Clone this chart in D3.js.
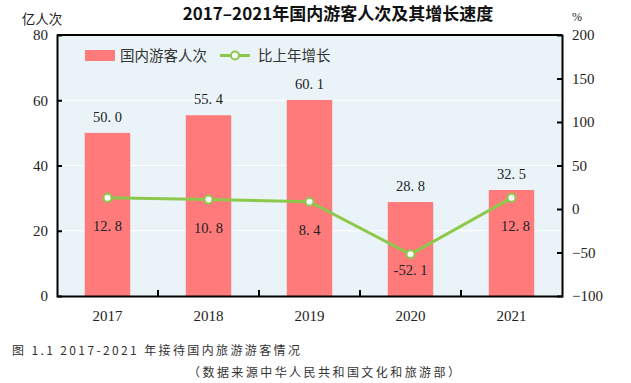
<!DOCTYPE html>
<html><head><meta charset="utf-8">
<script src="https://cdn.jsdelivr.net/npm/d3@7/dist/d3.min.js"></script>
<style>body{margin:0;background:#fff}</style>
</head><body>
<svg id="c" width="631" height="383"></svg>
<script>
const years = ["2017","2018","2019","2020","2021"];
const visitors = [50.0, 55.4, 60.1, 28.8, 32.5];
const growth = [12.8, 10.8, 8.4, -52.1, 12.8];
const leftTicks = [0,20,40,60,80];
const rightTicks = [-100,-50,0,50,100,150,200];

const svg = d3.select("#c");
const L=57, R=562, T=35, B=296;
const serif = "'Liberation Serif','DejaVu Serif',serif";
const cjk = "'Noto Sans CJK SC',sans-serif";

const x = d3.scaleBand().domain(years).range([L,R]).paddingInner(0.55).paddingOuter(0.275);
const xb = d3.scaleBand().domain(years).range([L,R]);
const yL = d3.scaleLinear().domain([0,80]).range([B,T]);
const yR = d3.scaleLinear().domain([-100,200]).range([B,T]);

svg.append("rect").attr("x",L).attr("y",T).attr("width",R-L).attr("height",B-T).attr("fill","#eaf4f8");
// grid
svg.selectAll(".g").data([20,40,60]).enter().append("line")
  .attr("x1",L).attr("x2",R).attr("y1",d=>yL(d)).attr("y2",d=>yL(d))
  .attr("stroke","#fff").attr("stroke-width",1.2);

// bars
svg.selectAll(".bar").data(visitors).enter().append("rect")
  .attr("x",(d,i)=>x(years[i])).attr("width",x.bandwidth())
  .attr("y",d=>yL(d)).attr("height",d=>B-yL(d)).attr("fill","#ff7b7b");
svg.selectAll(".bl").data(visitors).enter().append("text")
  .attr("x",(d,i)=>x(years[i])+x.bandwidth()/2).attr("y",d=>yL(d)-11)
  .attr("text-anchor","middle").attr("font-family",serif).attr("font-size",14.5)
  .attr("fill","#222").text(d=>d.toFixed(1).replace(".",". "));

// line
const lineGen = d3.line().x((d,i)=>xb(years[i])+xb.bandwidth()/2).y(d=>yR(d));
svg.append("path").datum(growth).attr("d",lineGen).attr("fill","none")
  .attr("stroke","#8cc84b").attr("stroke-width",3);
svg.selectAll(".pt").data(growth).enter().append("circle")
  .attr("cx",(d,i)=>xb(years[i])+xb.bandwidth()/2).attr("cy",d=>yR(d)).attr("r",4)
  .attr("fill","#fff").attr("stroke","#8cc84b").attr("stroke-width",2);
svg.selectAll(".pl").data(growth).enter().append("text")
  .attr("x",(d,i)=>xb(years[i])+xb.bandwidth()/2+(i===4?4:0)).attr("y",d=>yR(d)+ (d<0?21:33))
  .attr("text-anchor","middle").attr("font-family",serif).attr("font-size",14.5)
  .attr("fill","#222").text(d=>d.toFixed(1).replace(".",". "));

// axes
const gL = svg.append("g").attr("transform",`translate(${L},0)`)
  .call(d3.axisLeft(yL).tickValues(leftTicks).tickSize(-5).tickPadding(9));
const gR = svg.append("g").attr("transform",`translate(${R},0)`)
  .call(d3.axisRight(yR).tickValues(rightTicks).tickSize(-5).tickPadding(10).tickFormat(d=>String(d).replace("-","\u2212")));
const gB = svg.append("g").attr("transform",`translate(0,${B})`)
  .call(d3.axisBottom(xb).tickSize(0).tickPadding(14));
[gL,gR,gB].forEach(g=>{
  g.selectAll("text").attr("font-family",serif).attr("font-size",15).attr("fill","#222");
  g.select(".domain").attr("stroke","#000").attr("stroke-width",2);
  g.selectAll(".tick line").attr("stroke","#000").attr("stroke-width",2);
});
gL.selectAll(".tick").filter(d=>d===0||d===80).select("line").remove();
gR.selectAll(".tick").filter(d=>d===-100||d===200).select("line").remove();
// bottom ticks at band boundaries
svg.selectAll(".bt").data(years.slice(1)).enter().append("line")
  .attr("x1",d=>xb(d)).attr("x2",d=>xb(d)).attr("y1",B).attr("y2",B-6)
  .attr("stroke","#000").attr("stroke-width",2);
// top border
svg.append("line").attr("x1",L).attr("x2",R).attr("y1",T).attr("y2",T).attr("stroke","#000").attr("stroke-width",2);

// units
svg.append("text").attr("x",42).attr("y",24).attr("text-anchor","middle").attr("font-family",cjk).attr("font-size",13.5).attr("fill","#222").text("亿人次");
svg.append("text").attr("x",577).attr("y",21).attr("text-anchor","middle").attr("font-family",serif).attr("font-size",12).attr("fill","#222").text("%");

// title
svg.append("text").attr("x",338).attr("y",20).attr("text-anchor","middle").attr("font-family",cjk).attr("font-weight","bold").attr("font-size",17).attr("fill","#111").text("2017\u20132021年国内游客人次及其增长速度");

// legend
svg.append("rect").attr("x",85).attr("y",50).attr("width",30).attr("height",11).attr("fill","#ff7b7b");
svg.append("text").attr("x",120).attr("y",61).attr("font-family",cjk).attr("font-size",14.5).attr("fill","#333").text("国内游客人次");
svg.append("line").attr("x1",220).attr("x2",250).attr("y1",55.5).attr("y2",55.5).attr("stroke","#8cc84b").attr("stroke-width",3);
svg.append("circle").attr("cx",235).attr("cy",55.5).attr("r",4).attr("fill","#fff").attr("stroke","#8cc84b").attr("stroke-width",2);
svg.append("text").attr("x",258).attr("y",61).attr("font-family",cjk).attr("font-size",14.5).attr("fill","#333").text("比上年增长");

// caption
svg.append("text").attr("x",12).attr("y",355).attr("font-family",cjk).attr("font-size",12).attr("fill","#333")
  .attr("textLength",288).attr("lengthAdjust","spacing").text("图 1.1 2017-2021 年接待国内旅游游客情况");
svg.append("text").attr("x",188).attr("y",377).attr("font-family",cjk).attr("font-size",12).attr("fill","#333")
  .attr("textLength",272).attr("lengthAdjust","spacing").text("（数据来源中华人民共和国文化和旅游部）");
</script>
</body></html>
